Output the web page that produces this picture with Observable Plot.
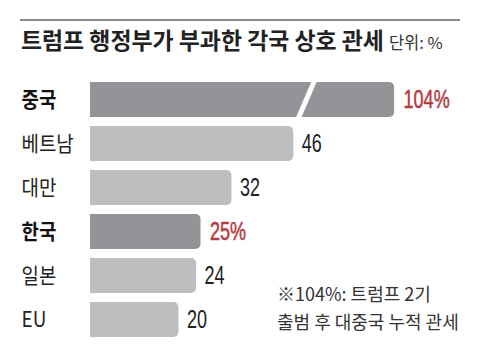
<!DOCTYPE html>
<html>
<head>
<meta charset="utf-8">
<script src="https://cdn.jsdelivr.net/npm/d3@7"></script>
<script src="https://cdn.jsdelivr.net/npm/@observablehq/plot@0.6"></script>
<style>
  html, body { margin: 0; padding: 0; background: #fff; }
  #wrap { position: relative; width: 480px; height: 360px; overflow: hidden; font-family: "Noto Sans CJK KR", sans-serif; }
  #rule { position: absolute; left: 20px; top: 19px; width: 440px; height: 2px; background: #8c8c8c; }
  #title { position: absolute; left: 21px; top: 28px; font-size: 22.9px; line-height: 23px; font-weight: 700; color: #222; white-space: nowrap; }
  #title .unit { font-size: 16.5px; font-weight: 400; color: #333; margin-left: 5px; }
  #plot { position: absolute; left: 0; top: 70px; }
  #note { position: absolute; left: 277px; top: 280px; font-size: 18px; line-height: 27.5px; color: #333; white-space: nowrap; }
</style>
</head>
<body>
<div id="wrap">
  <div id="rule"></div>
  <div id="title">트럼프 행정부가 부과한 각국 상호 관세<span class="unit">단위: %</span></div>
  <div id="plot"></div>
  <div id="note">※104%: 트럼프 2기<br>출범 후 대중국 누적 관세</div>
</div>
<script>
// Data
const countries = ["중국", "베트남", "대만", "한국", "일본", "EU"];
const tariffs = [104, 46, 32, 25, 24, 20];
const highlighted = ["중국", "한국"];
const valueLabels = ["104%", "46", "32", "25%", "24", "20"];
// China's bar is drawn shortened (broken bar); its visible end and break position
const brokenBarEnd = 68.8;
const breakAt = 48.8;

const rows = countries.map((c, i) => ({
  country: c,
  value: tariffs[i],
  shown: c === "중국" ? brokenBarEnd : tariffs[i],
  label: valueLabels[i],
  hi: highlighted.includes(c)
}));

const numFont = '"Liberation Sans", Arial, sans-serif';
const korFont = '"Noto Sans CJK KR", sans-serif';
const red = "#b5383d";

const chart = Plot.plot({
  width: 480,
  height: 290,
  marginLeft: 90,
  marginRight: 36.4,
  marginTop: 3.2,
  marginBottom: 14,
  x: { domain: [0, 80], axis: null },
  y: { domain: countries, padding: 0.2, axis: null },
  style: { background: "transparent" },
  marks: [
    Plot.barX(rows, {
      x1: -3, x2: "shown", y: "country",
      fill: d => d.hi ? "#939498" : "#bdbec0",
      rx: 5, clip: "frame"
    }),
    // break in the China bar
    Plot.vector(rows.filter(d => d.country === "중국"), {
      x: () => breakAt, y: "country",
      length: 44, rotate: 23.3, anchor: "middle",
      stroke: "white", strokeWidth: 5, strokeLinecap: "butt",
      shape: { draw(context, l) { context.moveTo(0, 0); context.lineTo(0, -l); } }
    }),
    // value labels
    Plot.text(rows.filter(d => !d.hi), {
      x: "shown", y: "country", text: "label", className: "num",
      textAnchor: "start", dx: 8, fontSize: 25, fill: "#222",
      fontFamily: numFont
    }),
    Plot.text(rows.filter(d => d.hi), {
      x: "shown", y: "country", text: "label", className: "num",
      textAnchor: "start", dx: 9, fontSize: 25, fill: red, stroke: red, strokeWidth: 0.5,
      fontFamily: numFont
    }),
    // category labels
    Plot.text(rows.filter(d => !d.hi), {
      y: "country", text: "country", frameAnchor: "left", className: "cat",
      textAnchor: "start", dx: -69, fontSize: 21, fill: "#222",
      fontFamily: korFont
    }),
    Plot.text(rows.filter(d => d.hi), {
      y: "country", text: "country", frameAnchor: "left", className: "cat",
      textAnchor: "start", dx: -69, fontSize: 21, fill: "#111", fontWeight: 700,
      fontFamily: korFont
    })
  ]
});
document.getElementById("plot").appendChild(chart);

// condensed look: compress glyphs horizontally
function condense(selector, factor) {
  chart.querySelectorAll(selector + " text").forEach(t => {
    const w = t.getComputedTextLength();
    t.setAttribute("textLength", (w * factor).toFixed(2));
    t.setAttribute("lengthAdjust", "spacingAndGlyphs");
  });
}
condense(".num", 0.72);
condense(".cat", 0.9);
</script>
</body>
</html>
